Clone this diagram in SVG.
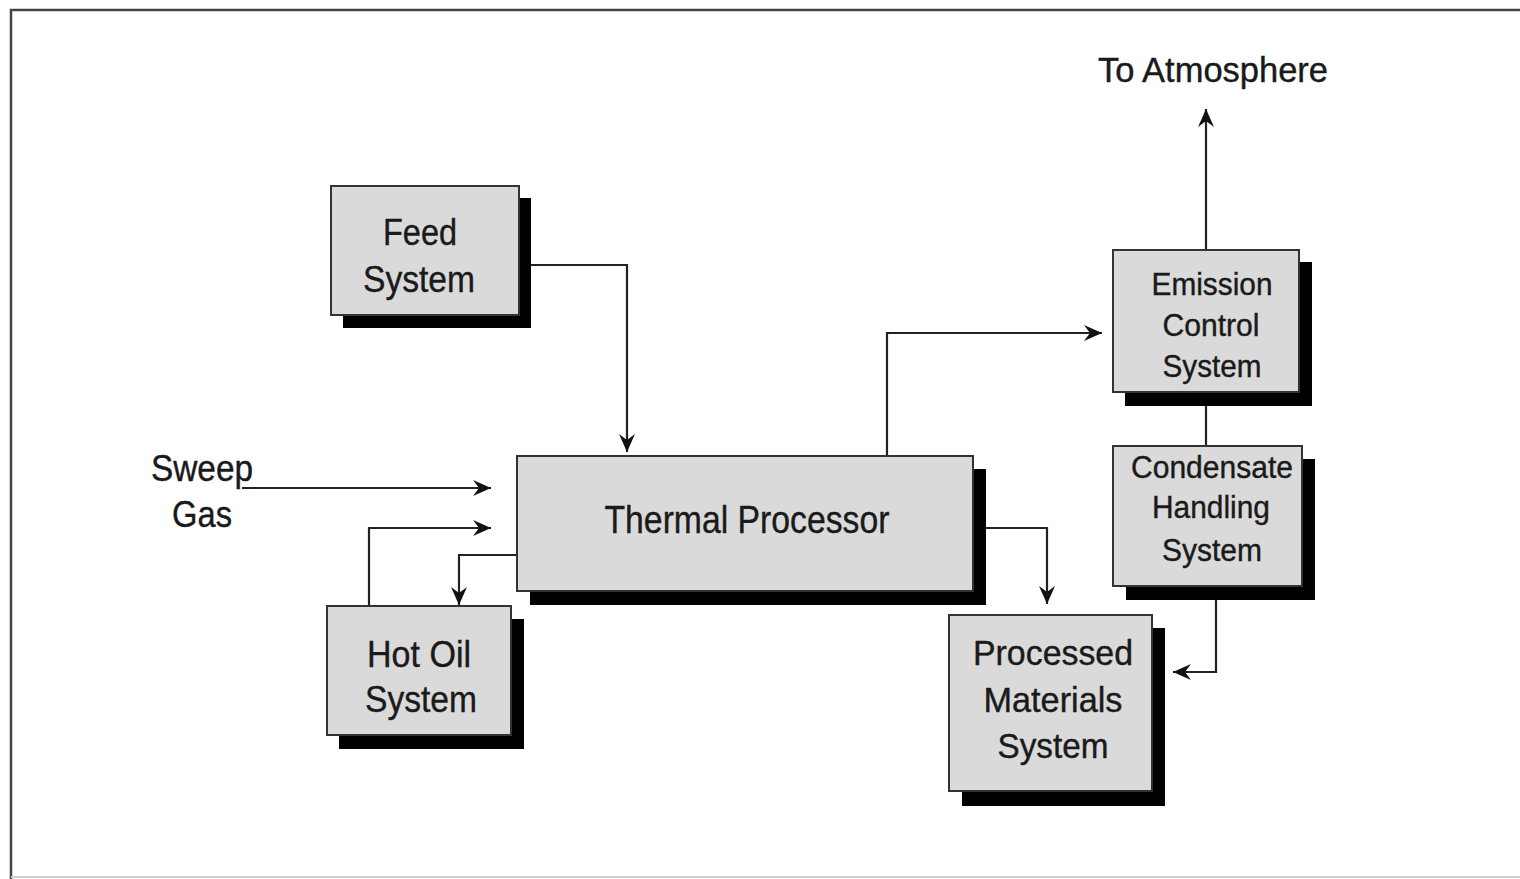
<svg xmlns="http://www.w3.org/2000/svg" width="1520" height="879" viewBox="0 0 1520 879">
<style>
.box{fill:#dadada;stroke:#333;stroke-width:2}
.sh{fill:#000}
.t{font-family:"Liberation Sans",Arial,sans-serif;fill:#1a1a1a;text-anchor:middle;stroke:#1a1a1a;stroke-width:0.4}
.ln{fill:none;stroke:#222;stroke-width:2.2}
</style>
<defs>
<marker id="ah" markerUnits="userSpaceOnUse" markerWidth="22" markerHeight="18" refX="18" refY="8" orient="auto">
<path d="M0,0 L18,8 L0,16 L6,8 z" fill="#111"/>
</marker>
</defs>
<rect width="1520" height="879" fill="#fff"/>
<path d="M11,879 L11,10 L1520,10" fill="none" stroke="#444" stroke-width="2.5"/>
<line x1="11" y1="877" x2="1520" y2="877" stroke="#d0d0d0" stroke-width="2"/>

<g id="connectors">
<path class="ln" d="M531,265 H627 V452" marker-end="url(#ah)"/>
<path class="ln" d="M242,488 H491" marker-end="url(#ah)"/>
<path class="ln" d="M369,606 V528 H491" marker-end="url(#ah)"/>
<path class="ln" d="M517,555 H459 V605" marker-end="url(#ah)"/>
<path class="ln" d="M887,456 V333 H1102" marker-end="url(#ah)"/>
<path class="ln" d="M986,528 H1047 V604" marker-end="url(#ah)"/>
<path class="ln" d="M1206,250 V109" marker-end="url(#ah)"/>
<path class="ln" d="M1206,392 V446"/>
<path class="ln" d="M1216,600 V672 H1173" marker-end="url(#ah)"/>
</g>

<g id="feed">
<rect class="sh" x="343" y="198" width="188" height="130"/>
<rect class="box" x="331" y="186" width="188" height="129"/>
<text class="t" font-size="37" x="420" y="245" textLength="74" lengthAdjust="spacingAndGlyphs">Feed</text>
<text class="t" font-size="37" x="419" y="292" textLength="112" lengthAdjust="spacingAndGlyphs">System</text>
</g>

<g id="thermal">
<rect class="sh" x="530" y="469" width="456" height="136"/>
<rect class="box" x="517" y="456" width="456" height="135"/>
<text class="t" font-size="38" x="747" y="533" textLength="285" lengthAdjust="spacingAndGlyphs">Thermal Processor</text>
</g>

<g id="hotoil">
<rect class="sh" x="339" y="619" width="185" height="130"/>
<rect class="box" x="327" y="606" width="184" height="129"/>
<text class="t" font-size="37" x="419" y="667" textLength="104" lengthAdjust="spacingAndGlyphs">Hot Oil</text>
<text class="t" font-size="37" x="421" y="712" textLength="112" lengthAdjust="spacingAndGlyphs">System</text>
</g>

<g id="sweep">
<text class="t" font-size="36" x="202" y="481" textLength="102" lengthAdjust="spacingAndGlyphs">Sweep</text>
<text class="t" font-size="36" x="202" y="527" textLength="60" lengthAdjust="spacingAndGlyphs">Gas</text>
</g>

<g id="emission">
<rect class="sh" x="1125" y="262" width="187" height="144"/>
<rect class="box" x="1113" y="250" width="186" height="142"/>
<text class="t" font-size="32" x="1212" y="295" textLength="121" lengthAdjust="spacingAndGlyphs">Emission</text>
<text class="t" font-size="32" x="1211" y="336" textLength="97" lengthAdjust="spacingAndGlyphs">Control</text>
<text class="t" font-size="32" x="1212" y="377" textLength="99" lengthAdjust="spacingAndGlyphs">System</text>
</g>

<g id="condensate">
<rect class="sh" x="1126" y="459" width="189" height="141"/>
<rect class="box" x="1113" y="446" width="189" height="140"/>
<text class="t" font-size="31" x="1212" y="478" textLength="162" lengthAdjust="spacingAndGlyphs">Condensate</text>
<text class="t" font-size="31" x="1211" y="518" textLength="118" lengthAdjust="spacingAndGlyphs">Handling</text>
<text class="t" font-size="31" x="1212" y="561" textLength="100" lengthAdjust="spacingAndGlyphs">System</text>
</g>

<g id="processed">
<rect class="sh" x="962" y="628" width="203" height="178"/>
<rect class="box" x="949" y="615" width="203" height="176"/>
<text class="t" font-size="35" x="1053" y="665" textLength="160" lengthAdjust="spacingAndGlyphs">Processed</text>
<text class="t" font-size="35" x="1053" y="712" textLength="139" lengthAdjust="spacingAndGlyphs">Materials</text>
<text class="t" font-size="35" x="1053" y="758" textLength="111" lengthAdjust="spacingAndGlyphs">System</text>
</g>

<g id="atmosphere">
<text class="t" font-size="35" x="1213" y="82" textLength="230" lengthAdjust="spacingAndGlyphs">To Atmosphere</text>
</g>
</svg>
